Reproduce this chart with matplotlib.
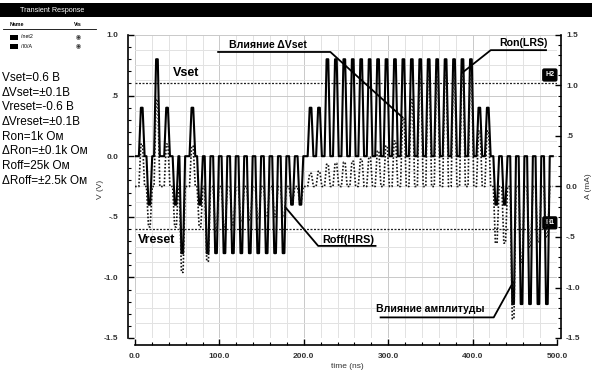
import numpy as np
import matplotlib
matplotlib.use("Agg")
import matplotlib.pyplot as plt
from matplotlib.patches import Rectangle
from matplotlib.lines import Line2D
from matplotlib.ticker import MultipleLocator, FixedLocator, FixedFormatter

plt.rcParams['font.family'] = ['Liberation Sans', 'DejaVu Sans']

# ---------------- data ----------------
# pulse centre times (ns)
pulse_t = [8, 17, 26, 38, 48, 56, 68, 77,
           86, 96, 106, 116, 126, 136, 146, 156, 166, 176,
           186, 196,
           208, 218,
           228, 238, 248, 258, 268, 278, 288, 298, 308, 318, 328, 338,
           348, 358, 368, 378, 388, 398,
           408, 418,
           428, 438,
           448, 458, 468, 478, 488]
# voltage amplitude of each pulse (V, left axis)
pulse_v = [0.4, -0.4, 0.8, 0.4, -0.4, -0.8, 0.4, -0.4,
           -0.8, -0.8, -0.8, -0.8, -0.8, -0.8, -0.8, -0.8, -0.8, -0.8,
           -0.4, -0.4,
           0.4, 0.4,
           0.8, 0.8, 0.8, 0.8, 0.8, 0.8, 0.8, 0.8, 0.8, 0.8, 0.8, 0.8,
           0.8, 0.8, 0.8, 0.8, 0.8, 0.8,
           0.4, 0.4,
           -0.4, -0.4,
           -1.22, -1.22, -1.22, -1.22, -1.22]
# current peak of each pulse (mA, right axis)
pulse_i = [0.42, -0.40, 0.86, 0.42, -0.40, -0.85, 0.40, -0.40,
           -0.74, -0.45, -0.40, -0.38, -0.35, -0.33, -0.32, -0.30, -0.30, -0.30,
           -0.15, -0.15,
           0.13, 0.15,
           0.22, 0.23, 0.24, 0.25, 0.27, 0.29, 0.35, 0.40, 0.45, 0.67, 0.87, 1.07,
           1.10, 1.10, 1.10, 1.10, 1.10, 1.10,
           0.55, 0.55,
           -0.56, -0.56,
           -1.31, -0.75, -0.60, -0.55, -0.50]
t_end = 495

v_ticks = [1.0, 0.5, 0.0, -0.5, -1.0, -1.5]
v_labels = ['1.0', '.5', '0.0', '-.5', '-1.0', '-1.5']
a_ticks = [1.5, 1.0, 0.5, 0.0, -0.5, -1.0, -1.5]
a_labels = ['1.5', '1.0', '.5', '0.0', '-.5', '-1.0', '-1.5']
t_ticks = [0, 100, 200, 300, 400, 500]
t_labels = ['0.0', '100.0', '200.0', '300.0', '400.0', '500.0']

params = ['Vset=0.6 В', 'ΔVset=±0.1В', 'Vreset=-0.6 В', 'ΔVreset=±0.1В',
          'Ron=1k Ом', 'ΔRon=±0.1k Ом', 'Roff=25k Ом', 'ΔRoff=±2.5k Ом']
vset_level = 0.6
vreset_level = -0.6


def pulse_wave(times, amps, rise=2.4, half=1.0):
    xs, ys = [0.0], [0.0]
    for t, a in zip(times, amps):
        xs += [t - half - rise, t - half, t + half, t + half + rise]
        ys += [0.0, a, a, 0.0]
    xs.append(t_end)
    ys.append(0.0)
    return np.array(xs), np.array(ys)


W, H = 592, 370
fig = plt.figure(figsize=(W / 100, H / 100), dpi=100)


def fx(x):
    return x / W


def fy(y):
    return 1 - y / H


ax = fig.add_axes([fx(135), 32 / H, 422 / W, 303 / H])
ax2 = ax.twinx()

ax.set_xlim(0, 500)
ax.set_ylim(-1.5, 1.0)
ax2.set_ylim(-1.5, 1.5)

# grid (manual so spacing can differ from ticks)
for gx in np.arange(0, 501, 20):
    ax.axvline(gx, color='#c9c9c9' if gx % 100 == 0 else '#e2e2e2', lw=0.7, zorder=0)
for gy in np.arange(-1.5, 1.01, 0.125):
    ax.axhline(gy, color='#c9c9c9' if abs(gy * 2 - round(gy * 2)) < 1e-6 else '#e2e2e2',
               lw=0.7, zorder=0)

# reference lines
ax.axhline(vset_level, color='#222222', lw=0.9, ls=(0, (1.6, 1.2)), zorder=1)
ax.axhline(vreset_level, xmax=0.975, color='#222222', lw=0.9, ls=(0, (1.6, 1.2)), zorder=1)

tv, vv = pulse_wave(pulse_t, pulse_v)
ti, ii = pulse_wave(pulse_t, pulse_i)
ax.plot(tv, vv, color='black', lw=1.5, zorder=3)
ax2.plot(ti, ii, color='#111111', lw=1.2, ls=(0, (1, 1.1)), zorder=2)

# spines & ticks
for a in (ax, ax2):
    a.spines['top'].set_visible(False)
ax.spines['left'].set_position(('outward', 5))
ax.spines['bottom'].set_position(('outward', 5))
ax2.spines['right'].set_position(('outward', 3))
ax.spines['right'].set_visible(False)
ax2.spines['left'].set_visible(False)
ax2.spines['bottom'].set_visible(False)
for s in ('left', 'bottom'):
    ax.spines[s].set_linewidth(1.2)
ax2.spines['right'].set_linewidth(1.2)

ax.xaxis.set_major_locator(FixedLocator(t_ticks))
ax.xaxis.set_major_formatter(FixedFormatter(t_labels))
ax.xaxis.set_minor_locator(MultipleLocator(20))
ax.yaxis.set_major_locator(FixedLocator(v_ticks))
ax.yaxis.set_major_formatter(FixedFormatter(v_labels))
ax.yaxis.set_minor_locator(MultipleLocator(0.1))
ax2.yaxis.set_major_locator(FixedLocator(a_ticks))
ax2.yaxis.set_major_formatter(FixedFormatter(a_labels))
ax2.yaxis.set_minor_locator(MultipleLocator(0.1))

tick_kw = dict(labelsize=6, labelcolor='#333333', color='black')
ax.tick_params(axis='both', which='major', direction='in', length=4, width=1.0, **tick_kw)
ax.tick_params(axis='both', which='minor', direction='in', length=2.5, width=0.8)
ax2.tick_params(axis='y', which='major', direction='in', length=4, width=1.0, **tick_kw)
ax2.tick_params(axis='y', which='minor', direction='in', length=2.5, width=0.8)
ax.tick_params(axis='y', pad=7)
ax.tick_params(axis='x', pad=6)
for lab in ax.get_xticklabels() + ax.get_yticklabels() + ax2.get_yticklabels():
    lab.set_fontweight('bold')

ax.set_ylabel('V (V)', fontsize=6, color='#333333')
ax.yaxis.set_label_coords(-0.073, 0.49)
ax2.set_ylabel('A (mA)', fontsize=6, color='#333333', rotation=90)
ax2.yaxis.set_label_coords(1.066, 0.5)
ax.set_xlabel('time (ns)', fontsize=6, color='#333333')
ax.xaxis.set_label_coords(0.502, -0.083)

# annotations
bold = dict(fontweight='bold', color='black')
ax.text(45, 0.69, 'Vset', fontsize=9, va='center', ha='left', zorder=5, **bold)
ax.text(3.5, -0.69, 'Vreset', fontsize=9, va='center', ha='left', zorder=5, **bold)

ax.text(111, 0.92, 'Влияние ΔVset', fontsize=7.6, va='center', ha='left', zorder=5, **bold)
ax.plot([98.5, 231.5, 317], [0.86, 0.86, 0.32], color='black', lw=1.3, zorder=5)

ax.text(431, 0.93, 'Ron(LRS)', fontsize=7.6, va='center', ha='left', zorder=5, **bold)
ax.plot([487, 421.5, 388], [0.875, 0.875, 0.69], color='black', lw=1.3, zorder=5)

ax.text(222, -0.69, 'Roff(HRS)', fontsize=7.8, va='center', ha='left', zorder=5, **bold)
ax.plot([285, 217, 178], [-0.74, -0.74, -0.42], color='black', lw=1.3, zorder=5)

ax.text(285, -1.26, 'Влияние амплитуды', fontsize=7.6, va='center', ha='left', zorder=5, **bold)
ax.plot([291, 425, 448], [-1.33, -1.33, -1.04], color='black', lw=1.3, zorder=5)

box = dict(boxstyle='round,pad=0.35,rounding_size=0.2', fc='black', ec='black')
ax.text(491.5, 0.67, 'H2', fontsize=5, color='white', fontweight='bold',
        ha='center', va='center', bbox=box, zorder=6)
ax.text(491.5, -0.55, 'H1', fontsize=5, color='white', fontweight='bold',
        ha='center', va='center', bbox=box, zorder=6)

# header bar
fig.patches.append(Rectangle((0, fy(17)), 1, 14 / H, transform=fig.transFigure,
                             facecolor='black', edgecolor='none'))
fig.text(fx(20), fy(10.5), 'Transient Response', color='white', fontsize=5.2,
         va='center', ha='left')

# legend table
fig.text(fx(10), fy(25), 'Name', fontsize=3.8, fontweight='bold', va='center')
fig.text(fx(74), fy(25), 'Vis', fontsize=3.8, fontweight='bold', va='center')
fig.lines.append(Line2D([fx(3), fx(96)], [fy(29), fy(29)], transform=fig.transFigure,
                        color='black', lw=0.6))
for row, name in zip([37, 46], ['/net2', '/I0/A']):
    fig.patches.append(Rectangle((fx(10), fy(row + 2.5)), 8 / W, 5 / H,
                                 transform=fig.transFigure, facecolor='black',
                                 edgecolor='none'))
    fig.text(fx(21), fy(row), name, fontsize=3.8, va='center')
    fig.text(fx(78), fy(row), '◉', fontsize=4.2, va='center', ha='center',
             family='DejaVu Sans', color='#333333')

# parameter block
for k, line in enumerate(params):
    fig.text(fx(2), fy(78 + k * 14.7), line, fontsize=8.5, va='center', ha='left',
             color='black')

fig.savefig('out.png', dpi=100)
